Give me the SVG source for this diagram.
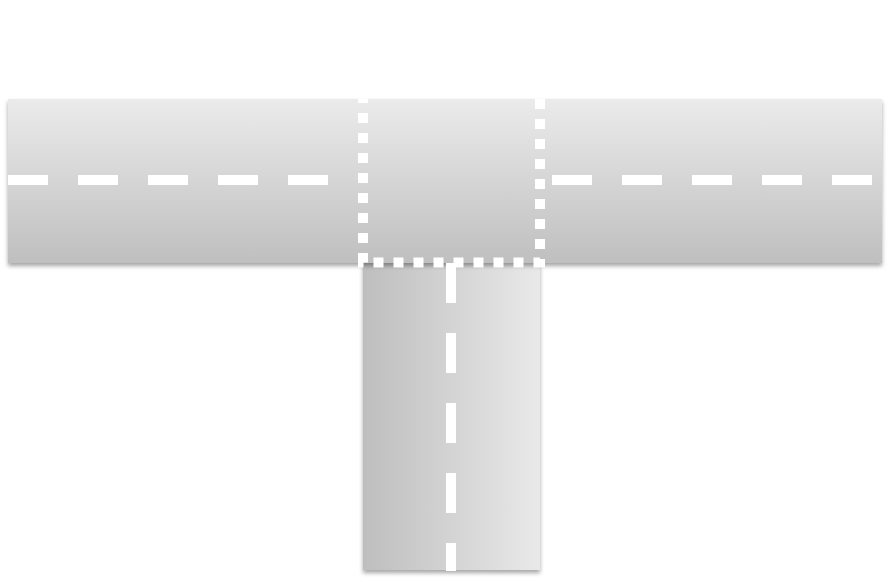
<svg xmlns="http://www.w3.org/2000/svg" width="896" height="581" viewBox="0 0 896 581">
<defs>
<linearGradient id="gh" x1="0" y1="0" x2="0" y2="1"><stop offset="0" stop-color="#ebebeb"/><stop offset="1" stop-color="#bfbfbf"/></linearGradient>
<linearGradient id="gv" x1="0" y1="0" x2="1" y2="0"><stop offset="0" stop-color="#bebebe"/><stop offset="1" stop-color="#e9e9e9"/></linearGradient>
<filter id="sh" x="-5%" y="-10%" width="110%" height="125%"><feDropShadow dx="0" dy="3" stdDeviation="2" flood-color="#000" flood-opacity="0.35"/></filter>
<clipPath id="cl"><rect x="8" y="99" width="874" height="472"/></clipPath>
</defs>
<style>.dash{stroke:#fff;stroke-width:10;fill:none;stroke-dasharray:40 30}.dot{stroke:#fff;stroke-width:10;fill:none;stroke-dasharray:10 10}</style>
<g id="vertical-road"><rect x="363" y="258" width="177" height="312" fill="url(#gv)" filter="url(#sh)"/></g>
<g id="horizontal-road"><rect x="8" y="99" width="874" height="164" fill="url(#gh)" filter="url(#sh)"/></g>
<g id="markings" clip-path="url(#cl)">
<path class="dash" d="M8 180H358"/>
<path class="dash" d="M552 180H882"/>
<path class="dash" d="M451 263V575"/>
<path class="dot" d="M363 93V262.5H540V93"/>
</g>
</svg>
